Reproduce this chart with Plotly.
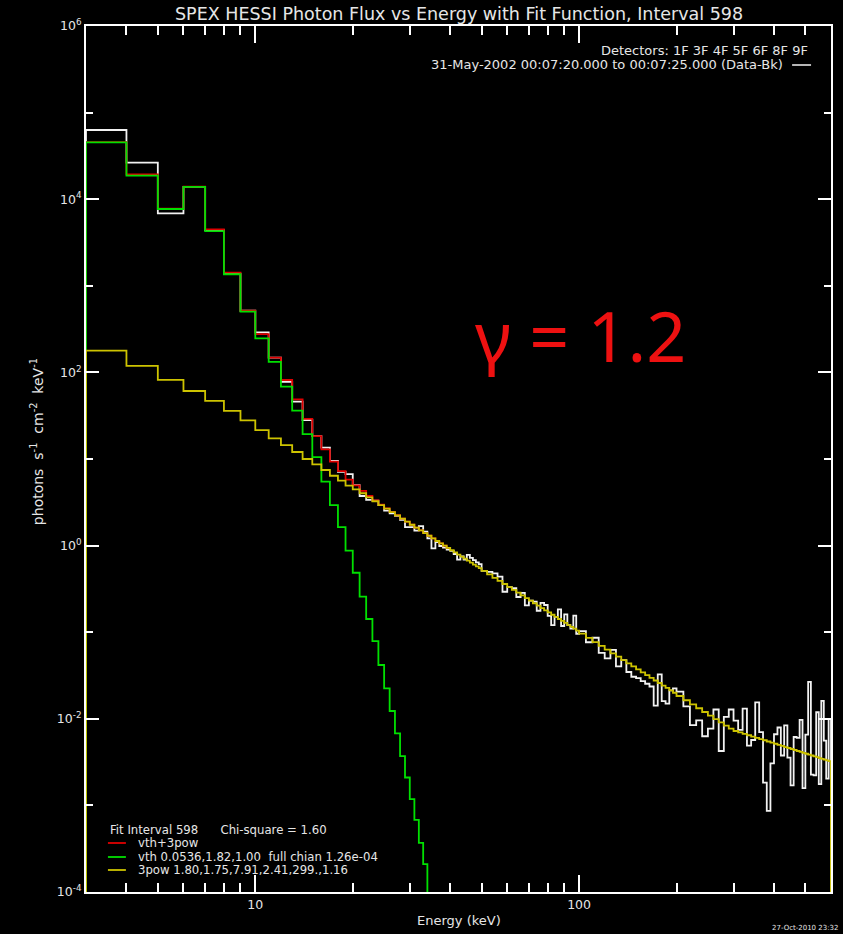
import math
import plotly.graph_objects as go

# ---------------- data ----------------
# energy bin edges (keV)
energy_edges = (list(range(3, 51)) + list(range(52, 101, 2)) +
                list(range(105, 201, 5)) + list(range(210, 601, 10)))

# measured photon flux (Data-Bk), photons s^-1 cm^-2 keV^-1
data_flux = [63000, 26400, 6870, 13900, 4400, 1380, 515, 290, 148, 78, 45.9, 28.2, 18.4, 13.5, 9.5,
             7.1, 6.7, 5.0, 3.74, 3.37, 3.3, 2.94, 2.53, 2.36, 2.20, 1.98, 1.63, 1.63, 1.49, 1.68,
             1.45, 1.21, 0.93, 1.10, 0.99, 0.95, 0.90, 0.87, 0.80, 0.69, 0.75, 0.69, 0.78, 0.72,
             0.68, 0.64, 0.61,
             0.510, 0.498, 0.477, 0.439, 0.293, 0.332, 0.322, 0.255, 0.285, 0.204, 0.231, 0.226,
             0.177, 0.218, 0.206, 0.154, 0.121, 0.150, 0.183, 0.118, 0.161, 0.121, 0.110, 0.155,
             0.096,
             0.103, 0.0765, 0.0863, 0.0577, 0.0499, 0.0626, 0.0404, 0.0476, 0.0347, 0.0306,
             0.0295, 0.0273, 0.0254, 0.0236, 0.0142, 0.0326, 0.0160, 0.0150, 0.0213, 0.0224,
             0.0206, 0.0139, 0.00845, 0.00958, 0.00629, 0.00771, 0.0128, 0.00425, 0.0105, 0.0128,
             0.00953, 0.00746, 0.0131, 0.00490, 0.00569, 0.0155, 0.00701, 0.00183, 0.000866,
             0.00305, 0.00663, 0.00793, 0.00377, 0.00839, 0.00357, 0.00170, 0.00616, 0.00601,
             0.00973, 0.00158, 0.00656, 0.0267, 0.00227, 0.00222, 0.0119, 0.00176, 0.0161,
             0.00561, 0.00204, 0.0100]

# fit components
vth_3pow = [45600, 19400, 7800, 14000, 4490, 1416, 515, 277, 148, 81.7, 48.9, 29.0, 18.4, 12.9,
            9.35, 7.25, 5.79, 4.96, 4.28, 3.74, 3.33, 2.98, 2.69, 2.45, 2.24, 2.05, 1.89, 1.74,
            1.61, 1.50, 1.39, 1.30, 1.21, 1.13, 1.06, 1.00, 0.939]

vth = [45400, 18700, 7710, 13900, 4290, 1360, 502, 247, 132, 68.4, 36.1, 19.4, 10.5, 5.47, 2.94,
       1.63, 0.873, 0.486, 0.257, 0.142, 0.079, 0.0418, 0.0224, 0.0123, 0.0068, 0.0037, 0.0021,
       0.00118, 6.8e-4, 3.7e-4, 2.1e-4, 8e-5, 4.4e-5, 2.4e-5, 1.3e-5, 7e-6, 3.8e-6]

pow3 = [178, 119, 82, 61, 47, 36, 28, 21.6, 17.3, 14.5, 12.05, 10.0, 8.69, 7.46, 6.41, 5.62, 4.92,
        4.47, 4.02, 3.60, 3.25, 2.94, 2.67, 2.44, 2.23, 2.05, 1.89, 1.74, 1.61, 1.50, 1.39, 1.30,
        1.21, 1.13, 1.06, 1.00, 0.939, 0.884, 0.835, 0.788, 0.746, 0.706, 0.670, 0.636, 0.604,
        0.575, 0.548,
        0.510, 0.465, 0.425, 0.391, 0.360, 0.332, 0.308, 0.286, 0.266, 0.248, 0.231, 0.216,
        0.203, 0.190, 0.179, 0.169, 0.159, 0.150, 0.142, 0.135, 0.128, 0.121, 0.115, 0.110,
        0.104,
        0.0961, 0.0858, 0.0769, 0.0694, 0.0628, 0.0571, 0.0521, 0.0476, 0.0437, 0.0403, 0.0372,
        0.0344, 0.0320, 0.0297, 0.0277, 0.0259, 0.0242, 0.0227, 0.0213, 0.0200,
        0.01834, 0.01637, 0.01468, 0.01323, 0.01198, 0.01089, 0.00993, 0.00909, 0.00835,
        0.00769, 0.00723, 0.00696, 0.00670, 0.00646, 0.00624, 0.00603, 0.00583, 0.00565,
        0.00547, 0.00530, 0.00515, 0.00500, 0.00486, 0.00472, 0.00460, 0.00448, 0.00436,
        0.00425, 0.00415, 0.00405, 0.00395, 0.00386, 0.00377, 0.00368, 0.00360, 0.00352,
        0.00345, 0.00338, 0.00331, 0.00324]

x_major = [10, 100]
x_minor = [4, 5, 6, 7, 8, 9, 20, 30, 40, 50, 60, 70, 80, 90, 200, 300, 400, 500]
y_major = [1e-4, 1e-2, 1, 1e2, 1e4, 1e6]
y_major_text = ['10<sup>-4</sup>', '10<sup>-2</sup>', '10<sup>0</sup>', '10<sup>2</sup>',
                '10<sup>4</sup>', '10<sup>6</sup>']
y_minor = [1e-3, 1e-1, 10, 1e3, 1e5]

# ---------------- figure ----------------
W, H = 843, 934
ML, MR, MT, MB = 86, 10, 26, 42
PW, PH = W - ML - MR, H - MT - MB
FLOOR = 1e-7
FONT = 'DejaVu Sans'
TXT = '#e6e6e6'
AXC = '#ffffff'
XR = [math.log10(3), math.log10(600)]
YR = [-4, 6]


def px(x):
    return (x - ML) / PW


def py(y):
    return (H - MB - y) / PH


def step_trace(vals, color, width=1.8, drop_end=False):
    n = len(vals)
    e = energy_edges[:n + 1]
    xs = [e[0]] + e[:n] + [e[n]]
    ys = [FLOOR] + list(vals) + [vals[-1]]
    if drop_end:
        xs.append(e[n])
        ys.append(FLOOR)
    return go.Scatter(x=xs, y=ys, mode='lines', line=dict(color=color, width=width, shape='hv'),
                      hoverinfo='skip')


fig = go.Figure()
fig.add_trace(step_trace(data_flux, '#f2f2f2', drop_end=True))
fig.add_trace(step_trace(vth_3pow, '#e00000'))
fig.add_trace(step_trace(vth, '#00e000'))
fig.add_trace(step_trace(pow3, '#cdc300', drop_end=True))
# invisible companion traces so the tick-mark overlay axes are drawn
for xa, ya in [('x2', 'y2'), ('x3', 'y3')]:
    fig.add_trace(go.Scatter(x=energy_edges[:-1], y=data_flux, xaxis=xa, yaxis=ya, mode='lines',
                             line=dict(width=0), opacity=0, hoverinfo='skip'))

tick_axis = dict(showgrid=False, zeroline=False, ticks='inside', tickcolor=AXC, tickwidth=2,
                 mirror='ticks', showline=False, showticklabels=False, tickmode='array')

fig.update_layout(
    width=W, height=H,
    margin=dict(l=ML, r=MR, t=MT, b=MB),
    paper_bgcolor='black', plot_bgcolor='black',
    showlegend=False,
    # label axes (frame + labels)
    xaxis=dict(type='log', range=XR, showline=True, linecolor=AXC, linewidth=2, mirror=True,
               ticks='', showgrid=False, zeroline=False,
               tickfont=dict(family=FONT, size=12.5, color=TXT),
               tickmode='array', tickvals=x_major, ticktext=[str(v) for v in x_major]),
    yaxis=dict(type='log', range=YR, showline=True, linecolor=AXC, linewidth=2, mirror=True,
               ticks='', showgrid=False, zeroline=False,
               tickfont=dict(family=FONT, size=12.5, color=TXT),
               tickmode='array', tickvals=y_major, ticktext=y_major_text),
    # tick-mark axes
    xaxis2=dict(type='log', range=XR, overlaying='x', anchor='y2', side='bottom', ticklen=9,
                tickvals=x_minor, **tick_axis),
    yaxis2=dict(type='log', range=YR, overlaying='y', anchor='x2', side='left', ticklen=7,
                tickvals=y_minor, **tick_axis),
    xaxis3=dict(type='log', range=XR, overlaying='x', anchor='y3', side='bottom', ticklen=17,
                tickvals=x_major, **tick_axis),
    yaxis3=dict(type='log', range=YR, overlaying='y', anchor='x3', side='left', ticklen=13,
                tickvals=y_major, **tick_axis),
)

ann = []


def text(x, y, s, size=11, xanchor='left', color=TXT, family=FONT, angle=0):
    ann.append(dict(x=px(x), y=py(y), xref='paper', yref='paper', text=s, showarrow=False,
                    xanchor=xanchor, yanchor='middle', textangle=angle,
                    font=dict(family=family, size=size, color=color)))


text(459.5, 14, 'SPEX HESSI Photon Flux vs Energy with Fit Function, Interval 598', size=17.5,
     xanchor='center')
text(812, 50, 'Detectors: 1F 3F 4F 5F 6F 8F 9F', size=13, xanchor='right')
text(787, 65, '31-May-2002 00:07:20.000 to 00:07:25.000 (Data-Bk)', size=13, xanchor='right')
text(460, 921, 'Energy (keV)', size=13, xanchor='center')
text(37, 442, 'photons  s<sup>-1</sup>  cm<sup>-2</sup>  keV<sup>-1</sup>', size=14,
     xanchor='center', angle=-90)
text(108, 830, 'Fit Interval 598      Chi-square = 1.60', size=11.7)
text(136, 843, 'vth+3pow', size=11.7)
text(136, 857, 'vth 0.0536,1.82,1.00  full chian 1.26e-04', size=11.7)
text(136, 870, '3pow 1.80,1.75,7.91,2.41,299.,1.16', size=11.7)
text(842, 928, '27-Oct-2010 23:32', size=7, xanchor='right')
text(582, 335, 'γ = 1.2', size=70, xanchor='center', color='#ee1111', family='Noto Sans')

shapes = [dict(type='line', xref='paper', yref='paper', x0=px(794), x1=px(813),
               y0=py(65), y1=py(65), line=dict(color='#f2f2f2', width=1.5))]
for yy, col in [(843, '#e00000'), (857, '#00e000'), (870, '#cdc300')]:
    shapes.append(dict(type='line', xref='paper', yref='paper', x0=px(108), x1=px(126),
                       y0=py(yy), y1=py(yy), line=dict(color=col, width=1.8)))

fig.update_layout(annotations=ann, shapes=shapes)
fig.write_html('out.html')
